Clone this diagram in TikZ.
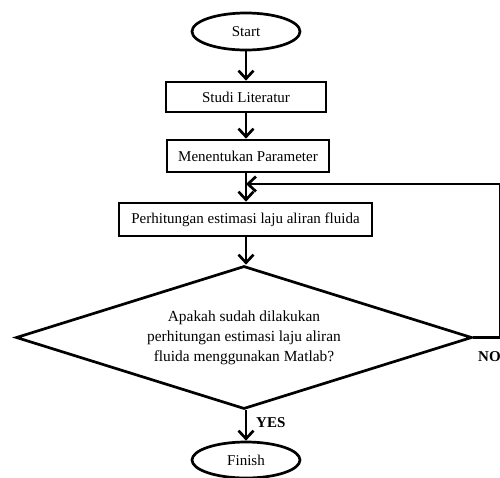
\documentclass[tikz,border=0pt]{standalone}
\usepackage{fontspec}
\setmainfont{Liberation Serif}
\usetikzlibrary{shapes.geometric,arrows.meta}
\begin{document}
\begin{tikzpicture}[x=1pt,y=-1pt,
  every node/.style={font=\fontsize{15}{20}\selectfont},
  term/.style={draw,ellipse,line width=2.7pt,minimum width=108pt,minimum height=37pt,inner sep=0pt},
  procbox/.style={draw,rectangle,line width=2.7pt,inner sep=0pt},
  decide/.style={draw,diamond,line width=2.7pt,aspect=3.2,inner sep=0pt,align=center,minimum width=456pt,minimum height=143pt,font=\fontsize{15.4}{20}\selectfont},
  flow/.style={line width=2.7pt,-{Straight Barb[length=8pt,width=15pt]}},
  lbl/.style={font=\fontsize{15}{18}\selectfont\bfseries,inner sep=0pt}]
\useasboundingbox (0,0) rectangle (500,477);
\clip (0,0) rectangle (500,477);
\node[term] (start) at (246,31.5) {Start};
\node[procbox,minimum width=160pt,minimum height=30pt] (studi) at (246,97) {Studi Literatur};
\node[procbox,minimum width=162pt,minimum height=32pt] (param) at (248,156) {Menentukan Parameter};
\node[procbox,minimum width=253pt,minimum height=33pt] (perh) at (245.5,219.5) {Perhitungan estimasi laju aliran fluida};
\node[decide] (dia) at (244,337.5) {Apakah sudah dilakukan\\perhitungan estimasi laju aliran\\fluida menggunakan Matlab?};
\node[term,minimum height=36pt] (fin) at (246,460) {Finish};
\coordinate (lp) at (500,184);
\draw[flow] (start.south) -- (studi.north);
\draw[flow] (studi.south) -- (studi.south |- param.north);
\draw[flow] (studi.south |- param.south) -- (studi.south |- perh.north);
\draw[flow] (studi.south |- perh.south) -- (studi.south |- dia.north);
\draw[flow] (studi.south |- dia.south) -- (fin.north);
\draw[flow] (dia.east) -- (dia.east -| lp) -- (lp) -- (lp -| studi.south);
\node[lbl,anchor=west] (yes) at (256,423) {YES};
\node[lbl,anchor=west] (no) at (478,357) {NO};
\end{tikzpicture}
\end{document}
